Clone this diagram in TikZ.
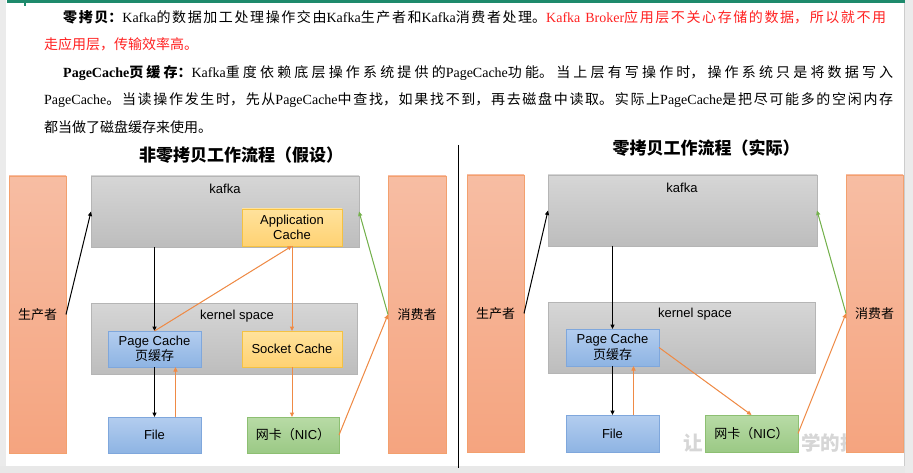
\documentclass[tikz,border=0pt]{standalone}
\usepackage{fontspec}
\setmainfont{Liberation Serif}
\setsansfont{Liberation Sans}
\newfontfamily\cjk{Noto Sans CJK SC}
\usetikzlibrary{arrows.meta,calc}

\XeTeXlinebreaklocale "zh"
\XeTeXlinebreakskip = 0pt plus 2pt

\definecolor{barTop}{HTML}{F7BDA3}
\definecolor{barBot}{HTML}{F5A47F}
\definecolor{barLine}{HTML}{F3A06E}
\definecolor{grayTop}{HTML}{D6D6D6}
\definecolor{grayBot}{HTML}{BDBDBD}
\definecolor{grayLine}{HTML}{B5B5B5}
\definecolor{yelTop}{HTML}{FFE29C}
\definecolor{yelBot}{HTML}{FFD273}
\definecolor{yelLine}{HTML}{F5C242}
\definecolor{bluTop}{HTML}{B3CDEF}
\definecolor{bluBot}{HTML}{8EB4E3}
\definecolor{bluLine}{HTML}{7FA7DC}
\definecolor{grnTop}{HTML}{B8DBA6}
\definecolor{grnBot}{HTML}{9BC985}
\definecolor{grnLine}{HTML}{8DBF72}
\definecolor{arrOrange}{HTML}{EF8A45}
\definecolor{arrGreen}{HTML}{74B14C}
\definecolor{warnRed}{HTML}{FF2222}
\definecolor{topTeal}{HTML}{1E8A6C}

\newcommand{\zh}[1]{{\cjk #1}}

\tikzset{
    para/.style={anchor=base west, inner sep=0pt, align=justify,
        font=\fontsize{14}{27.5}\selectfont},
    box/.style={anchor=north west, inner sep=0pt, outer sep=0pt,
        align=center, font=\sffamily\fontsize{13}{15.5}\selectfont},
    bar/.style={box, draw=barLine, top color=barTop, bottom color=barBot,
        font=\cjk\fontsize{13}{15.5}\selectfont},
    graybox/.style={box, draw=grayLine, top color=grayTop, bottom color=grayBot},
    yelbox/.style={box, draw=yelLine, top color=yelTop, bottom color=yelBot},
    blubox/.style={box, draw=bluLine, top color=bluTop, bottom color=bluBot},
    grnbox/.style={box, draw=grnLine, top color=grnTop, bottom color=grnBot},
    boxlabel/.style={inner sep=0pt, font=\sffamily\fontsize{13}{15.5}\selectfont},
    title/.style={inner sep=0pt, font=\cjk\bfseries\fontsize{17}{20}\selectfont},
    watermark/.style={inner sep=0pt, anchor=west, text=black!16,
        font=\cjk\bfseries\fontsize{19.5}{20}\selectfont},
    flow/.style={-{Triangle[length=4.5pt,width=4pt]}, line width=1pt},
    oflow/.style={flow, draw=arrOrange, fill=arrOrange},
    gflow/.style={flow, draw=arrGreen, fill=arrGreen},
}

\begin{document}
\begin{tikzpicture}[x=1pt,y=-1pt]

    \useasboundingbox (0,0) rectangle (913,473);

    % page
    \fill [white] (0,0) rectangle (913,473);
    \fill [black!8] (0,0) rectangle (6,473);
    \fill [black!8] (904,0) rectangle (913,473);
    \draw [black!20] (904,0) -- (904,466);
    \fill [black!9] (0,466) rectangle (913,473);
    \fill [topTeal] (7,0) rectangle (905,3.5);
    \fill [topTeal] (24,0) rectangle (26,6);

    % text above the pictures
    \node [para, text width=842pt] (para1) at (44,22.5)
        {\hspace*{19pt}{\cjk\bfseries 零拷贝：}Kafka\zh{的数据加工处理操作交由}Kafka\zh{生产者和}Kafka\zh{消费者处理。}\textcolor{warnRed}{Kafka Broker\zh{应用层不关心存储的数据，所以就不用}\linebreak
        \zh{走应用层，传输效率高。}}};

    \node [para, text width=849pt] (para2) at (44,77.5)
        {\hspace*{19pt}\textbf{PageCache}{\cjk\bfseries 页缓存：}Kafka\zh{重度依赖底层操作系统提供的}PageCache\zh{功能。当上层有写操作时，操作系统只是将数据写入}\linebreak
        PageCache\zh{。当读操作发生时，先从}PageCache\zh{中查找，如果找不到，再去磁盘中读取。实际上}PageCache\zh{是把尽可能多的空闲内存}\linebreak
        \zh{都当做了磁盘缓存来使用。}};

    % faint watermark, partly hidden
    \node [watermark] (markA) at (683,443) {让};
    \node [watermark] (markB) at (801,443) {学的技术};

    % divider
    \coordinate (divTop) at (458,145);
    \coordinate (divBot) at (458,468);
    \draw [line width=0.9pt] (divTop) -- (divBot);

    % left: without zero copy
    \node [title] (titleL) at (241,155) {非零拷贝工作流程（假设）};

    \node [bar, minimum width=57, minimum height=277] (prodL) at (9,176) {生产者};
    \node [bar, minimum width=58, minimum height=277] (consL) at (388,176) {消费者};
    \node [graybox, minimum width=268, minimum height=71] (kafkaL) at (91,176) {};
    \node [boxlabel] (kafkaTxtL) at (225,189) {kafka};
    \node [yelbox, minimum width=100, minimum height=37] (appL) at (242,209)
        {Application\\Cache};
    \node [graybox, minimum width=266, minimum height=71] (kernL) at (91,303) {};
    \node [boxlabel] (kernTxtL) at (237,316) {kernel space};
    \node [blubox, minimum width=93, minimum height=36] (pcL) at (108,331)
        {Page Cache\\\zh{页缓存}};
    \node [yelbox, minimum width=100, minimum height=36] (sockL) at (242,331)
        {Socket Cache};
    \node [blubox, minimum width=93, minimum height=36] (fileL) at (108,417) {File};
    \node [grnbox, minimum width=92, minimum height=36] (nicL) at (247,417)
        {\zh{网卡（}NIC\zh{）}};

    \draw [flow] (prodL.east) -- (kafkaL.west);
    \draw [flow] (kafkaL.south -| pcL.north) -- (pcL.north);
    \draw [flow] (pcL.south) -- (fileL.north);
    \draw [oflow] ([xshift=21pt]fileL.north) -- ([xshift=21pt]pcL.south);
    \draw [oflow] (pcL.north) -- (appL.south);
    \draw [oflow] (appL.south) -- (sockL.north);
    \draw [oflow] (sockL.south) -- (sockL.south |- nicL.north);
    \draw [oflow] (nicL.east) -- (consL.west);
    \draw [gflow] (consL.west) -- (kafkaL.east);

    % right: zero copy
    \node [title] (titleR) at (706,148) {零拷贝工作流程（实际）};

    \node [bar, minimum width=57, minimum height=277] (prodR) at (467,175) {生产者};
    \node [bar, minimum width=57, minimum height=277] (consR) at (846,175) {消费者};
    \node [graybox, minimum width=269, minimum height=71] (kafkaR) at (548,175) {};
    \node [boxlabel] (kafkaTxtR) at (682,188) {kafka};
    \node [graybox, minimum width=267, minimum height=71] (kernR) at (548,302) {};
    \node [boxlabel] (kernTxtR) at (695,314) {kernel space};
    \node [blubox, minimum width=93, minimum height=37] (pcR) at (566,329)
        {Page Cache\\\zh{页缓存}};
    \node [blubox, minimum width=93, minimum height=37] (fileR) at (566,415) {File};
    \node [grnbox, minimum width=93, minimum height=37] (nicR) at (705,415)
        {\zh{网卡（}NIC\zh{）}};

    \draw [flow] (prodR.east) -- (kafkaR.west);
    \draw [flow] (kafkaR.south -| pcR.north) -- (pcR.north);
    \draw [flow] (pcR.south) -- (fileR.north);
    \draw [oflow] ([xshift=21pt]fileR.north) -- ([xshift=21pt]pcR.south);
    \draw [oflow] (pcR.east) -- (nicR.north);
    \draw [oflow] (nicR.east) -- (consR.west);
    \draw [gflow] (consR.west) -- (kafkaR.east);

    % right page edge over the cut bar
    \fill [black!8] (904.5,0) rectangle (913,473);

\end{tikzpicture}
\end{document}
